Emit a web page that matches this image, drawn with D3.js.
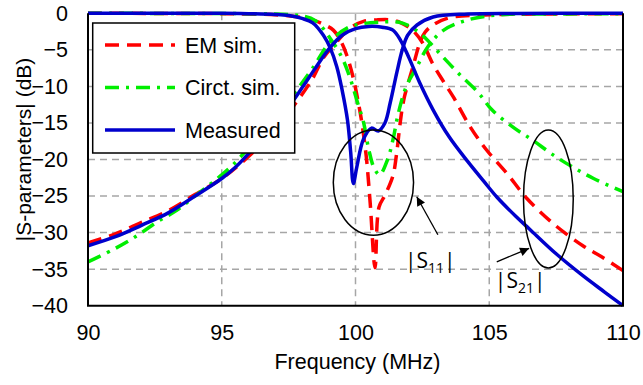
<!DOCTYPE html>
<html>
<head>
<meta charset="utf-8">
<script src="https://cdn.jsdelivr.net/npm/d3@7"></script>
<style>
  body { margin: 0; background: #fff; }
  svg text { font-family: "Liberation Sans", Arial, sans-serif; fill: #000; }
</style>
</head>
<body>
<figure id="sparams" style="margin:0"></figure>
<script>
// frequency (MHz) / level (dB) pairs
const measS21 = [[90,-31.8],[91,-30.6],[92,-29.0],[93,-27.3],[94,-25.0],[95,-22.6],[95.5,-21.1],[96,-19.2],[96.5,-17.1],[97,-15.0],[97.5,-12.8],[98,-10.2],[98.5,-7.5],[99,-4.9],[99.5,-3.0],[100,-2.1],[100.5,-1.8],[101,-1.9],[101.4,-2.3],[101.7,-3.8],[102,-6.1],[102.4,-9.5],[102.9,-13.2],[103.5,-16.9],[104.2,-20.3],[104.8,-23.0],[105.3,-25.2],[106,-27.8],[106.5,-29.5],[107.5,-32.9],[108.5,-35.9],[109.3,-38.1],[110,-40]]
const measS11 = [[90,0],[95,0],[96,-0.05],[97,-0.15],[97.5,-0.3],[98,-0.7],[98.4,-1.3],[98.8,-3.0],[99.05,-4.7],[99.3,-7.3],[99.5,-10.5],[99.7,-14.6],[99.82,-19],[99.92,-23.3],[100.05,-21],[100.3,-17.2],[100.6,-15.7],[100.85,-16.1],[101.1,-15],[101.3,-12.2],[101.55,-8.0],[101.75,-5.0],[101.95,-3.0],[102.3,-1.6],[102.9,-0.5],[104.2,-0.1],[106,-0.02],[110,0]]

const emS21 = [[90,-31.4],[91,-30.2],[92,-28.6],[93,-27.0],[94,-24.8],[95,-22.6],[96,-19.6],[97,-15.8],[97.7,-12.6],[98.4,-8.9],[98.8,-6.1],[99.3,-3.9],[99.8,-2.0],[100.3,-1.1],[100.8,-0.9],[101.3,-0.9],[101.7,-1.3],[102.1,-2.2],[102.5,-4.0],[102.9,-7.0],[103.3,-9.4],[103.65,-11.4],[104.3,-15.6],[104.9,-18.7],[105.66,-21.9],[106.4,-25.3],[107.4,-28.8],[108.5,-31.8],[109.2,-33.3],[110,-35.2]]
const emS11 = [[90,0],[95,-0.05],[96,-0.1],[97,-0.2],[97.5,-0.35],[98,-0.6],[98.4,-0.9],[98.8,-1.5],[99.17,-2.3],[99.45,-3.8],[99.67,-5.7],[99.92,-8.9],[100.1,-12.1],[100.23,-14.8],[100.4,-19.5],[100.55,-26],[100.73,-34.8],[100.88,-26.5],[101.1,-24.9],[101.4,-22.2],[101.54,-19.1],[101.66,-15.3],[101.8,-11.9],[102.15,-7.3],[102.4,-4.1],[102.6,-2.6],[102.9,-1.6],[103.5,-0.6],[105,-0.2],[107,-0.1],[110,-0.05]]

const circS21 = [[90,-34.0],[91,-32.2],[91.8,-30.5],[92.6,-28.5],[93.3,-27.0],[94,-25.0],[94.7,-23.0],[95.4,-20.8],[96.2,-17.6],[97,-14.3],[97.74,-10.8],[98.4,-7.5],[99.05,-3.9],[99.7,-2.0],[100.3,-1.4],[100.9,-1.2],[101.6,-1.2],[102.04,-1.8],[102.5,-3.0],[102.8,-4.1],[103.3,-6.1],[103.9,-8.4],[104.6,-10.9],[105.1,-13.2],[105.9,-15.6],[106.6,-17.3],[107.4,-19.4],[108.1,-21.0],[108.9,-22.6],[110,-24.4]]
const circS11 = [[90,0],[96,-0.05],[97,-0.1],[97.9,-0.3],[98.5,-1.0],[99.05,-3.4],[99.5,-6.1],[99.8,-8.9],[100.1,-12.5],[100.3,-14.9],[100.5,-18.7],[100.7,-21.2],[100.9,-22.1],[101.2,-20],[101.4,-17.3],[101.6,-13.7],[101.9,-10],[102.3,-7.3],[102.7,-4.6],[103.3,-2.3],[104.2,-0.9],[105.4,-0.2],[107,-0.1],[110,-0.05]]

const xTicks = [90, 95, 100, 105, 110]
const yTicks = [0, -5, -10, -15, -20, -25, -30, -35, -40]
const legendNames = ["EM sim.", "Circt. sim.", "Measured"]

// annotation ellipses / arrows in data units
const ellipseS11 = {f: 100.67, db: -23.15, rf: 1.5, rdb: 7.2}
const ellipseS21 = {f: 107.21, db: -25.4, rf: 0.93, rdb: 9.44}
const arrowS11 = [[103.08, -30.3], [102.29, -25.1]]
const arrowS21 = [[105.28, -34.0], [106.49, -32.15]]
const labelS11 = [101.85, -34.85]
const labelS21 = [105.21, -37.6]

const width = 643, height = 385
const margin = {top: 13.3, right: 20, bottom: 79.3, left: 88}

const svg = d3.select("figure#sparams")
  .append("svg")
  .attr("width", width)
  .attr("height", height)

const x = d3.scaleLinear().domain([90, 110]).range([margin.left, width - margin.right])
const y = d3.scaleLinear().domain([-40, 0]).range([height - margin.bottom, margin.top])

// grid
svg.append("g")
  .selectAll("line")
  .data(yTicks.filter(d => d > -40 && d < 0))
  .join("line")
    .attr("x1", x(90)).attr("x2", x(110))
    .attr("y1", d => y(d)).attr("y2", d => y(d))
    .attr("stroke", "#a6a6a6").attr("stroke-width", 1.5)
    .attr("stroke-dasharray", "7,5")

svg.append("g")
  .selectAll("line")
  .data(xTicks.filter(d => d > 90 && d < 110))
  .join("line")
    .attr("x1", d => x(d)).attr("x2", d => x(d))
    .attr("y1", y(0)).attr("y2", y(-40))
    .attr("stroke", "#a6a6a6").attr("stroke-width", 1.5)
    .attr("stroke-dasharray", "7,5")

svg.append("line")
  .attr("x1", x(90)).attr("x2", x(110))
  .attr("y1", y(0)).attr("y2", y(0))
  .attr("stroke", "#bfbfbf").attr("stroke-width", 1.5)

// curves
const line = d3.line()
  .x(d => x(d[0]))
  .y(d => y(d[1]))
  .curve(d3.curveCatmullRom.alpha(0.5))

const styles = {
  em:   {color: "#ff0000", dash: "14,8"},
  circ: {color: "#00ee00", dash: "14,7,3,7"},
  meas: {color: "#0000cc", dash: null}
}

const series = [
  [emS11, styles.em], [emS21, styles.em],
  [circS11, styles.circ], [circS21, styles.circ],
  [measS11, styles.meas], [measS21, styles.meas]
]

series.forEach(([data, st]) => {
  svg.append("path")
    .datum(data)
    .attr("fill", "none")
    .attr("stroke", st.color)
    .attr("stroke-width", 3.5)
    .attr("stroke-dasharray", st.dash)
    .attr("d", line)
})

// axes frame
svg.append("line")
  .attr("x1", x(90)).attr("x2", x(90)).attr("y1", y(0)).attr("y2", y(-40))
  .attr("stroke", "#000").attr("stroke-width", 2)
svg.append("line")
  .attr("x1", x(110)).attr("x2", x(110)).attr("y1", y(0)).attr("y2", y(-40))
  .attr("stroke", "#000").attr("stroke-width", 2)
svg.append("line")
  .attr("x1", x(90) - 1).attr("x2", x(110) + 1).attr("y1", y(-40)).attr("y2", y(-40))
  .attr("stroke", "#000").attr("stroke-width", 2)

let xAxis = d3.axisBottom(x).tickValues(xTicks).tickSize(0).tickPadding(19)
let yAxis = d3.axisLeft(y).tickValues(yTicks).tickSize(0).tickPadding(20)

svg.append("g")
  .attr("transform", `translate(0, ${y(-40)})`)
  .call(xAxis)
  .call(g => g.select(".domain").remove())
  .selectAll("text")
    .style("font-size", "21.5px")
    .style("font-family", "'Liberation Sans', Arial, sans-serif")

svg.append("g")
  .attr("transform", `translate(${x(90)}, 0)`)
  .call(yAxis)
  .call(g => g.select(".domain").remove())
  .selectAll("text")
    .style("font-size", "21.5px")
    .style("font-family", "'Liberation Sans', Arial, sans-serif")

svg.append("text")
  .attr("x", (x(90) + x(110)) / 2 + 2)
  .attr("y", 369)
  .attr("text-anchor", "middle")
  .style("font-size", "21.5px")
  .text("Frequency (MHz)")

svg.append("text")
  .attr("transform", `translate(31, ${(y(0) + y(-40)) / 2 - 10}) rotate(-90)`)
  .attr("text-anchor", "middle")
  .style("font-size", "21px")
  .text("|S-parameters| (dB)")

// legend
const legend = svg.append("g")
legend.append("rect")
  .attr("x", 92.7).attr("y", 23)
  .attr("width", 202).attr("height", 130)
  .attr("fill", "#fff").attr("stroke", "#000").attr("stroke-width", 1.5)

const legendStyles = [styles.em, styles.circ, styles.meas]
legendNames.forEach((name, i) => {
  let ly = 45 + i * 42.5
  legend.append("line")
    .attr("x1", 105).attr("x2", 175)
    .attr("y1", ly).attr("y2", ly)
    .attr("stroke", legendStyles[i].color)
    .attr("stroke-width", 3.5)
    .attr("stroke-dasharray", legendStyles[i].dash)
  legend.append("text")
    .attr("x", 185).attr("y", ly)
    .attr("dy", "0.35em")
    .style("font-size", "21.5px")
    .text(name)
})

// annotations
svg.append("defs").append("marker")
  .attr("id", "head")
  .attr("viewBox", "0 0 10 10")
  .attr("refX", 10).attr("refY", 5)
  .attr("markerWidth", 11).attr("markerHeight", 9)
  .attr("markerUnits", "userSpaceOnUse")
  .attr("orient", "auto")
  .append("path")
    .attr("d", "M0,0 L10,5 L0,10 z")
    .attr("fill", "#000")

;[ellipseS11, ellipseS21].forEach(e => {
  svg.append("ellipse")
    .attr("cx", x(e.f)).attr("cy", y(e.db))
    .attr("rx", x(e.f + e.rf) - x(e.f))
    .attr("ry", y(e.db - e.rdb) - y(e.db))
    .attr("fill", "none").attr("stroke", "#000").attr("stroke-width", 1.5)
})

;[arrowS11, arrowS21].forEach(a => {
  svg.append("line")
    .attr("x1", x(a[0][0])).attr("y1", y(a[0][1]))
    .attr("x2", x(a[1][0])).attr("y2", y(a[1][1]))
    .attr("stroke", "#000").attr("stroke-width", 1.3)
    .attr("marker-end", "url(#head)")
})

;[[labelS11, "11"], [labelS21, "21"]].forEach(([p, sub]) => {
  let t = svg.append("text")
    .attr("x", x(p[0])).attr("y", y(p[1]))
    .style("font-family", "'Open Sans', 'Noto Sans', sans-serif")
    .style("font-size", "21px")
  t.append("tspan").text("|S")
  t.append("tspan").attr("dy", 5).style("font-size", "14px").text(sub)
  t.append("tspan").attr("dy", -5).text("|")
})
</script>
</body>
</html>
